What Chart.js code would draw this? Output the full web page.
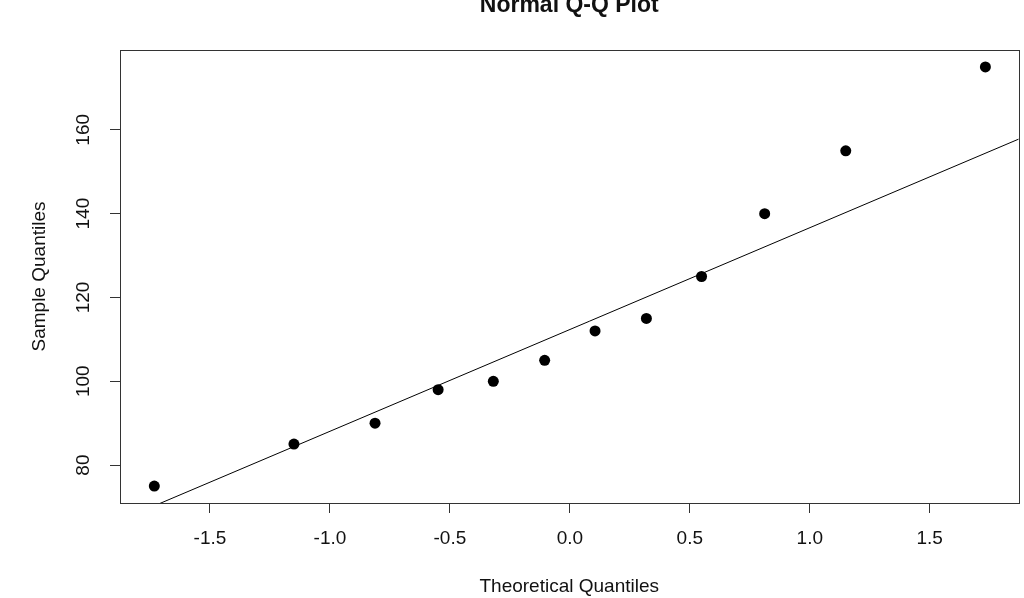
<!DOCTYPE html>
<html>
<head>
<meta charset="utf-8">
<script src="https://cdn.jsdelivr.net/npm/chart.js@4"></script>
<style>
  html, body { margin: 0; padding: 0; background: #fff; overflow: hidden; }
  #qq { display: block; }
</style>
</head>
<body>
<canvas id="qq" width="1024" height="598"></canvas>
<script>
// theoretical quantiles (12 points) and sorted sample values
const theoretical = [-1.732, -1.150, -0.812, -0.549, -0.319, -0.105, 0.105, 0.319, 0.549, 0.812, 1.150, 1.732];
const sample = [75, 85, 90, 98, 100, 105, 112, 115, 125, 140, 155, 175];
// qq line end points
const lineX = [-1.9, 1.9];
const lineY = [66.2, 158.5];
const xTicks = [-1.5, -1.0, -0.5, 0.0, 0.5, 1.0, 1.5];
const yTicks = [80, 100, 120, 140, 160];

const font = 'Arial, "Liberation Sans", sans-serif';
const ink = '#111';

// box, main title and rotated y labels, R style
const rStyle = {
  id: 'rStyle',
  afterDraw(chart) {
    const ctx = chart.ctx;
    const a = chart.chartArea;
    ctx.save();
    ctx.strokeStyle = '#333';
    ctx.lineWidth = 1;
    ctx.strokeRect(Math.round(a.left) + 0.5, Math.round(a.top) + 0.5,
      Math.round(a.right - a.left), Math.round(a.bottom - a.top));

    ctx.fillStyle = ink;
    ctx.font = 'bold 23px ' + font;
    ctx.textAlign = 'center';
    ctx.textBaseline = 'alphabetic';
    ctx.fillText('Normal Q-Q Plot', (a.left + a.right) / 2, 12);

    const y = chart.scales.y;
    ctx.font = '19px ' + font;
    ctx.textBaseline = 'middle';
    y.ticks.forEach(t => {
      ctx.save();
      ctx.translate(84, y.getPixelForValue(t.value));
      ctx.rotate(-Math.PI / 2);
      ctx.fillText(String(t.value), 0, 0);
      ctx.restore();
    });
    ctx.restore();
  }
};

const data = {
  datasets: [{
    label: 'sample',
    data: theoretical.map((x, i) => ({ x: x, y: sample[i] })),
    pointRadius: 5.5,
    pointHoverRadius: 5.5,
    backgroundColor: '#000',
    borderColor: '#000',
    borderWidth: 0,
    showLine: false
  }, {
    label: 'qqline',
    data: lineX.map((x, i) => ({ x: x, y: lineY[i] })),
    showLine: true,
    pointRadius: 0,
    borderColor: '#000',
    borderWidth: 1
  }]
};

const config = {
  type: 'scatter',
  data: data,
  options: {
    responsive: false,
    animation: false,
    devicePixelRatio: 1,
    layout: { padding: { top: 50, right: 2, left: 0, bottom: 0 } },
    plugins: {
      legend: { display: false },
      tooltip: { enabled: false },
      title: { display: false }
    },
    scales: {
      x: {
        type: 'linear',
        min: -1.875,
        max: 1.87,
        afterBuildTicks: s => { s.ticks = xTicks.map(v => ({ value: v })); },
        afterFit: s => { s.height = 95; },
        border: { display: false },
        grid: { drawOnChartArea: false, drawTicks: true, tickLength: 10, color: '#333' },
        ticks: {
          color: ink,
          padding: 14,
          font: { family: font, size: 19 },
          maxRotation: 0,
          callback: v => v.toFixed(1)
        },
        title: {
          display: true,
          text: 'Theoretical Quantiles',
          color: ink,
          font: { family: font, size: 19 },
          padding: { top: 1, bottom: 0 }
        }
      },
      y: {
        type: 'linear',
        min: 70.95,
        max: 179.05,
        afterBuildTicks: s => { s.ticks = yTicks.map(v => ({ value: v })); },
        afterFit: s => { s.width = 120; },
        border: { display: false },
        grid: { drawOnChartArea: false, drawTicks: true, tickLength: 10, color: '#333' },
        ticks: { display: false },
        title: {
          display: true,
          text: 'Sample Quantiles',
          color: ink,
          font: { family: font, size: 19 },
          padding: { top: 28, bottom: 0 }
        }
      }
    }
  },
  plugins: [rStyle]
};

// draw the Q-Q plot
var qqChart = new Chart(document.getElementById('qq'), config);
</script>
</body>
</html>
